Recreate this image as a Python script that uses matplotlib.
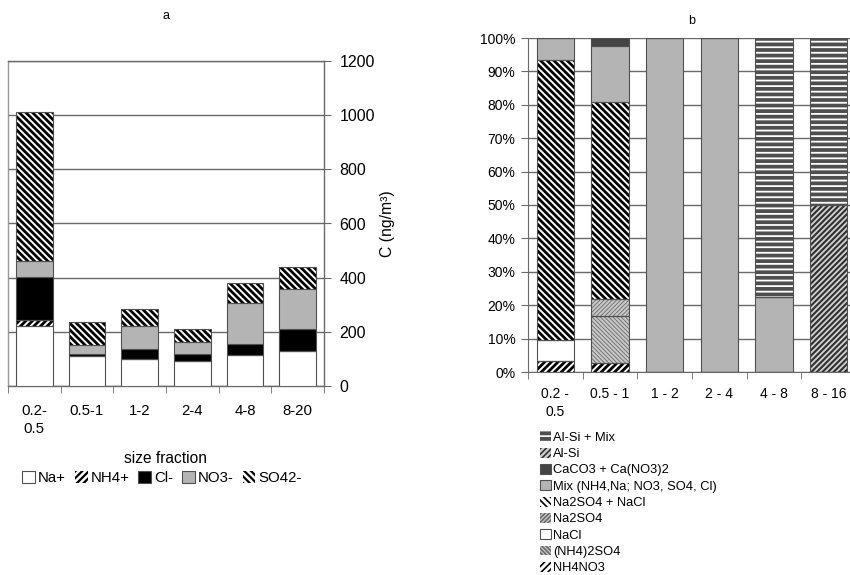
import matplotlib
matplotlib.use("Agg")
import matplotlib.pyplot as plt
import numpy as np

plt.rcParams['font.family'] = ['Liberation Sans', 'DejaVu Sans']

# ---------------- data chart a ----------------
cats_a = ["0.2-\n0.5", "0.5-1", "1-2", "2-4", "4-8", "8-20"]
na_a = [222, 110, 101, 93, 114, 130]
nh4_a = [21, 0, 0, 0, 0, 0]
cl_a = [158, 10, 34, 24, 40, 81]
no3_a = [61, 33, 87, 46, 151, 149]
so4_a = [549, 82, 62, 46, 75, 80]
yticks_a = [0, 200, 400, 600, 800, 1000, 1200]

# ---------------- data chart b ----------------
cats_b = ["0.2 -\n0.5", "0.5 - 1", "1 - 2", "2 - 4", "4 - 8", "8 - 16"]
nh4no3 = [3.3, 2.6, 0, 0, 0, 0]
nh42so4 = [0, 14.2, 0, 0, 0, 0]
nacl = [6.2, 0, 0, 0, 0, 0]
na2so4 = [0, 5.2, 0, 0, 0, 0]
na2so4_nacl = [84.0, 58.7, 0, 0, 0, 0]
mix = [6.5, 16.8, 100, 100, 22.5, 0]
caco3 = [0, 2.5, 0, 0, 0, 0]
alsi = [0, 0, 0, 0, 0, 50]
alsi_mix = [0, 0, 0, 0, 77.5, 50]
yticks_b = [0, 10, 20, 30, 40, 50, 60, 70, 80, 90, 100]

EDGE = '#505050'
GRID = '#6a6a6a'
GRAY = '#b4b4b4'

fig = plt.figure(figsize=(8.5, 5.75), dpi=100)

# ================= chart a =================
axa = fig.add_axes([8/850, 1-386/575, (324-8)/850, (386-61)/575])
xa = np.arange(len(cats_a))
w = 0.69

def seg(ax, x, vals, bottom, fc, width, hatch=None, hlw=1.0, hcolor='black', lw=0.8, label=None):
    with plt.rc_context({'hatch.linewidth': hlw}):
        if hatch:
            b = ax.bar(x, vals, width, bottom=bottom, color=fc, edgecolor=hcolor, hatch=hatch,
                       linewidth=0, label=label, zorder=3)
            ax.bar(x, vals, width, bottom=bottom, color='none', edgecolor=EDGE, linewidth=lw, zorder=4)
        else:
            b = ax.bar(x, vals, width, bottom=bottom, color=fc, edgecolor=EDGE, linewidth=lw,
                       label=label, zorder=3)
    return b

bot = np.zeros(len(cats_a))
ha = []
ha.append(seg(axa, xa, na_a, bot, 'white', w, label='Na+')); bot = bot + np.array(na_a)
ha.append(seg(axa, xa, nh4_a, bot, 'white', w, hatch='/////', hlw=2.0, label='NH4+')); bot = bot + np.array(nh4_a)
ha.append(seg(axa, xa, cl_a, bot, 'black', w, label='Cl-')); bot = bot + np.array(cl_a)
ha.append(seg(axa, xa, no3_a, bot, GRAY, w, label='NO3-')); bot = bot + np.array(no3_a)
ha.append(seg(axa, xa, so4_a, bot, 'white', w, hatch='\\\\\\\\\\', hlw=2.0, label='SO42-')); bot = bot + np.array(so4_a)

axa.set_ylim(0, 1200)
axa.set_xlim(-0.5, len(cats_a) - 0.5)
axa.set_yticks(yticks_a)
axa.yaxis.tick_right()
axa.yaxis.set_label_position('right')
axa.tick_params(axis='y', direction='out', length=5, color=GRID, labelsize=11.5, pad=6)
axa.set_ylabel('C (ng/m³)', fontsize=11.3, labelpad=4)
axa.yaxis.grid(True, color=GRID, linewidth=1.0, zorder=0)
axa.set_axisbelow(True)
for s in ['left', 'top', 'right', 'bottom']:
    axa.spines[s].set_color(GRID)
    axa.spines[s].set_linewidth(1.0)
axa.spines['left'].set_color('#999999')
axa.set_xticks(xa)
axa.set_xticklabels(cats_a, fontsize=10.8, linespacing=1.4)
axa.set_xticks(np.arange(len(cats_a) + 1) - 0.5, minor=True)
axa.tick_params(axis='x', which='major', length=0, pad=13)
axa.tick_params(axis='x', which='minor', length=5, direction='out', color=GRID)
axa.set_xlabel('size fraction', fontsize=11.2)
axa.set_title('a', fontsize=9, pad=30)
axa.xaxis.set_label_coords(0.5, -0.2)

with plt.rc_context({'hatch.linewidth': 1.6}):
    leg_a = fig.legend(handles=ha, labels=['Na+', 'NH4+', 'Cl-', 'NO3-', 'SO42-'],
                       loc='center', bbox_to_anchor=(162/850, 1-478/575), ncol=5, frameon=False,
                       fontsize=10.8, handlelength=0.85, handleheight=0.85, handletextpad=0.2,
                       columnspacing=0.6, borderpad=0)

# ================= chart b =================
axb = fig.add_axes([528/850, 1-372/575, (856-528)/850, (372-38)/575])
xb = np.arange(len(cats_b))
wb = 0.68

series_b = [
    ('NH4NO3', nh4no3, 'white', '/////', 2.0, 'black'),
    ('(NH4)2SO4', nh42so4, '#c8c8c8', '\\\\\\\\\\\\\\\\', 0.6, '#6a6a6a'),
    ('NaCl', nacl, 'white', None, 1, 'black'),
    ('Na2SO4', na2so4, '#c8c8c8', '////////', 0.6, '#6a6a6a'),
    ('Na2SO4 + NaCl', na2so4_nacl, 'white', '\\\\\\\\\\', 2.0, 'black'),
    ('Mix (NH4,Na; NO3, SO4, Cl)', mix, GRAY, None, 1, 'black'),
    ('CaCO3 + Ca(NO3)2', caco3, '#444444', None, 1, 'black'),
    ('Al-Si', alsi, '#d0d0d0', '//////', 1.5, '#303030'),
    ('Al-Si + Mix', alsi_mix, '#4e4e4e', '---', 1.3, 'white'),
]
botb = np.zeros(len(cats_b))
hb = []
for name, vals, fc, hatch, hlw, hc in series_b:
    hb.append((seg(axb, xb, vals, botb, fc, wb, hatch, hlw, hc, label=name), name))
    botb = botb + np.array(vals)

axb.set_ylim(0, 100)
axb.set_xlim(-0.5, len(cats_b) - 0.5)
axb.set_yticks(yticks_b)
axb.set_yticklabels([f'{v}%' for v in yticks_b], fontsize=10)
axb.tick_params(axis='y', direction='out', length=5, color=GRID, pad=4)
axb.yaxis.grid(True, color=GRID, linewidth=1.0, zorder=0)
axb.set_axisbelow(True)
for s in ['top', 'right']:
    axb.spines[s].set_visible(False)
for s in ['left', 'bottom']:
    axb.spines[s].set_color(GRID)
axb.set_xticks(xb)
axb.set_xticklabels(cats_b, fontsize=10, linespacing=1.3)
axb.set_xticks(np.arange(len(cats_b) + 1) - 0.5, minor=True)
axb.tick_params(axis='x', which='major', length=0, pad=11)
axb.tick_params(axis='x', which='minor', length=5, direction='out', color=GRID)
axb.set_title('b', fontsize=9, pad=10)

handles_b = [h for h, n in hb][::-1]
names_b = [n for h, n in hb][::-1]
with plt.rc_context({'hatch.linewidth': 1.2}):
    leg_b = fig.legend(handles=handles_b, labels=names_b, loc='upper left',
                       bbox_to_anchor=(534/850, 1-425/575), ncol=1, frameon=False,
                       fontsize=9.3, handlelength=0.8, handleheight=0.8, handletextpad=0.2,
                       labelspacing=0.3, borderpad=0)

fig.savefig('out.png', dpi=100)
